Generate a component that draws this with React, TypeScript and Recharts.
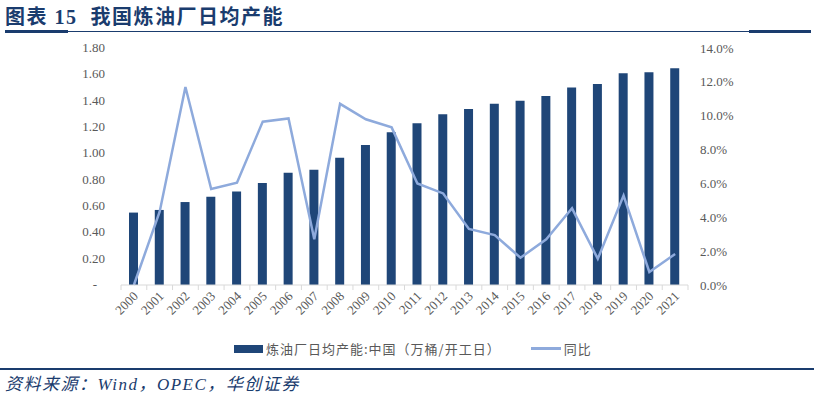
import React from 'react';
import { ComposedChart, Bar, Line, XAxis, YAxis } from 'recharts';

const years = [
    '2000', '2001', '2002', '2003', '2004', '2005', '2006', '2007', '2008', '2009', '2010',
    '2011', '2012', '2013', '2014', '2015', '2016', '2017', '2018', '2019', '2020', '2021',
];
// 万桶/开工日
const capacity = [
    0.55, 0.57, 0.63, 0.67, 0.71, 0.775, 0.853, 0.876, 0.967, 1.063, 1.16,
    1.228, 1.296, 1.337, 1.377, 1.4, 1.435, 1.5, 1.527, 1.608, 1.615, 1.646,
];
// 同比, %
const yoy = [
    0.0, 4.33, 11.7, 5.67, 6.04, 9.65, 9.84, 2.7, 10.7, 9.79, 9.31,
    6.0, 5.41, 3.31, 2.95, 1.61, 2.7, 4.53, 1.55, 5.28, 0.77, 1.83,
];
const leftTicks = [0, 0.2, 0.4, 0.6, 0.8, 1.0, 1.2, 1.4, 1.6, 1.8];
const rightTicks = [0, 2, 4, 6, 8, 10, 12, 14];

const data = years.map((year, i) => ({ year, capacity: capacity[i], yoy: yoy[i] }));

const BAR_COLOR = '#1f4678';
const LINE_COLOR = '#8eaadc';
const TEXT_COLOR = '#595959';
const DARK_BLUE = '#1a3c6e';
const SERIF = '"Liberation Serif", "Noto Sans CJK SC", serif';

const YearTick = (props: any) => {
    const { x, y, payload, index } = props;
    const half = payload.offset || 0;
    return (
        <g>
            <line x1={x - half} y1={y} x2={x - half} y2={y + 5} stroke="#d9d9d9" />
            {index === years.length - 1 && (
                <line x1={x + half} y1={y} x2={x + half} y2={y + 5} stroke="#d9d9d9" />
            )}
            <text
                x={x + 5}
                y={y + 12}
                transform={`rotate(-45, ${x + 5}, ${y + 12})`}
                textAnchor="end"
                fontSize={13}
                fontFamily={SERIF}
                fill={TEXT_COLOR}
            >
                {payload.value}
            </text>
        </g>
    );
};

const LeftTick = (props: any) => {
    const { x, y, payload } = props;
    const isZero = payload.value === 0;
    return (
        <text
            x={isZero ? x - 8 : x}
            y={y + 4}
            textAnchor="end"
            fontSize={13}
            fontFamily={SERIF}
            fill={TEXT_COLOR}
        >
            {isZero ? '-' : payload.value.toFixed(2)}
        </text>
    );
};

export default function App() {
    return (
        <div style={{ position: 'absolute', left: 0, top: 0, width: 814, height: 399, background: '#fff' }}>
            <div
                style={{
                    position: 'absolute',
                    left: 5,
                    top: 5,
                    fontFamily: SERIF,
                    fontWeight: 700,
                    fontSize: 20,
                    color: DARK_BLUE,
                    whiteSpace: 'nowrap',
                    lineHeight: '24px',
                    letterSpacing: 1.5,
                }}
            >
                图表 15&nbsp; 我国炼油厂日均产能
            </div>
            <div style={{ position: 'absolute', left: 5, top: 31, width: 805, height: 1, background: DARK_BLUE }} />
            <div style={{ position: 'absolute', left: 5, top: 30, width: 63, height: 3, background: DARK_BLUE }} />
            <div style={{ position: 'absolute', left: 749, top: 30, width: 62, height: 3, background: DARK_BLUE }} />

            <div style={{ position: 'absolute', left: 0, top: 0 }}>
                <ComposedChart width={814} height={399} data={data} margin={{ top: 48, right: 66, left: 81, bottom: 74 }}>
                    <XAxis
                        dataKey="year"
                        height={40}
                        interval={0}
                        stroke="#d9d9d9"
                        tickLine={false}
                        tickSize={0}
                        tickMargin={0}
                        tick={<YearTick />}
                    />
                    <YAxis
                        yAxisId="left"
                        width={40}
                        domain={[0, 1.8]}
                        ticks={leftTicks}
                        axisLine={false}
                        tickLine={false}
                        tickSize={0}
                        tickMargin={16}
                        tick={<LeftTick />}
                    />
                    <YAxis
                        yAxisId="right"
                        orientation="right"
                        width={60}
                        domain={[0, 14]}
                        ticks={rightTicks}
                        axisLine={false}
                        tickLine={false}
                        tickSize={0}
                        tickMargin={12}
                        tick={{ fontSize: 13, fontFamily: SERIF, fill: TEXT_COLOR }}
                        tickFormatter={(v: number) => `${v.toFixed(1)}%`}
                    />
                    <Bar
                        yAxisId="left"
                        dataKey="capacity"
                        fill={BAR_COLOR}
                        barSize={9}
                        isAnimationActive={false}
                    />
                    <Line
                        yAxisId="right"
                        dataKey="yoy"
                        type="linear"
                        stroke={LINE_COLOR}
                        strokeWidth={2.5}
                        dot={false}
                        isAnimationActive={false}
                    />
                </ComposedChart>
            </div>

            <div
                style={{
                    position: 'absolute',
                    top: 339,
                    left: 234,
                    display: 'flex',
                    alignItems: 'center',
                    fontFamily: '"Noto Sans CJK SC", sans-serif',
                    fontSize: 13,
                    color: TEXT_COLOR,
                    whiteSpace: 'nowrap',
                    letterSpacing: 1,
                }}
            >
                <span style={{ display: 'inline-block', width: 29, height: 8, background: BAR_COLOR, marginRight: 3 }} />
                <span>炼油厂日均产能:中国（万桶/开工日）</span>
                <span style={{ display: 'inline-block', width: 30, height: 3, background: LINE_COLOR, marginLeft: 30, marginRight: 3 }} />
                <span>同比</span>
            </div>

            <div style={{ position: 'absolute', left: 0, top: 368, width: 814, height: 2, background: DARK_BLUE }} />
            <div
                style={{
                    position: 'absolute',
                    left: 5,
                    top: 374,
                    fontFamily: SERIF,
                    fontStyle: 'italic',
                    fontSize: 17,
                    color: DARK_BLUE,
                    whiteSpace: 'nowrap',
                    lineHeight: '22px',
                    letterSpacing: 1.5,
                }}
            >
                资料来源：Wind，OPEC，华创证券
            </div>
        </div>
    );
}
